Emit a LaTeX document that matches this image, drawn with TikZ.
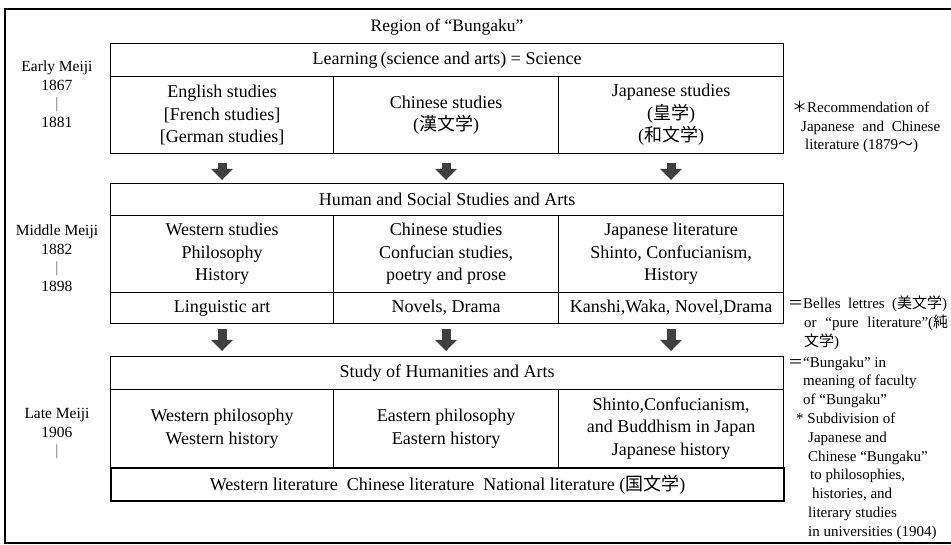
\documentclass[tikz,border=0pt]{standalone}
\usepackage{fontspec}
\setmainfont{Liberation Serif}
\newfontfamily\cjk{Noto Sans CJK JP}
\usetikzlibrary{arrows.meta}

\begin{document}
\begin{tikzpicture}[x=1pt,y=-1pt,
    cell/.style={draw,line width=1.1pt,anchor=north west,inner sep=0pt,align=center,
      font=\fontsize{18}{22.5}\selectfont},
    era/.style={align=center,font=\fontsize{15.5}{18.5}\selectfont},
    note/.style={align=left,anchor=west,inner sep=0pt,font=\fontsize{15}{18.8}\selectfont},
    bigarr/.style={line width=9pt,black!75,-{Triangle[width=21pt,length=11pt]}}]
  \useasboundingbox (0,0) rectangle (951,545);
  \draw[line width=1.3pt] (955,9) -- (5,9) -- (5,543) -- (955,543);
  \node[font=\fontsize{17.5}{21}\selectfont] (title) at (447,27) {Region of “Bungaku”};
%	early Meiji
  \node[cell,minimum width=673,minimum height=33] (learn) at (110,43)
    {Learning\,(science and arts) = Science};
  \node[cell,minimum width=223,minimum height=77] (eng) at (110,76)
    {English studies\\{[French studies]}\\{[German studies]}};
  \node[cell,minimum width=225,minimum height=77] (chi) at (333,76)
    {Chinese studies\\({\cjk 漢文学})};
  \node[cell,minimum width=225,minimum height=77] (jap) at (558,76)
    {Japanese studies\\({\cjk 皇学})\\({\cjk 和文学})};
%	middle Meiji
  \node[cell,minimum width=673,minimum height=32] (human) at (110,183)
    {Human and Social Studies and Arts};
  \node[cell,minimum width=223,minimum height=77] (west) at (110,215)
    {Western studies\\Philosophy\\History};
  \node[cell,minimum width=225,minimum height=77] (conf) at (333,215)
    {Chinese studies\\Confucian studies,\\poetry and prose};
  \node[cell,minimum width=225,minimum height=77] (jlit) at (558,215)
    {Japanese literature\\Shinto, Confucianism,\\History};
  \node[cell,minimum width=223,minimum height=31] (ling) at (110,292) {Linguistic art};
  \node[cell,minimum width=225,minimum height=31] (novel) at (333,292) {Novels, Drama};
  \node[cell,minimum width=225,minimum height=31] (kanshi) at (558,292)
    {Kanshi,Waka, Novel,Drama};
%	late Meiji
  \node[cell,minimum width=673,minimum height=33] (study) at (110,356)
    {Study of Humanities and Arts};
  \node[cell,minimum width=223,minimum height=78] (wphil) at (110,389)
    {Western philosophy\\Western history};
  \node[cell,minimum width=225,minimum height=78] (ephil) at (333,389)
    {Eastern philosophy\\Eastern history};
  \node[cell,minimum width=225,minimum height=78] (shinto) at (558,389)
    {Shinto,Confucianism,\\and Buddhism in Japan\\Japanese history};
  \node[cell,line width=2.2pt,minimum width=673,minimum height=33] (lit) at (110,467)
    {Western literature\ \ Chinese literature\ \ National literature ({\cjk 国文学})};
%	the arrows
  \foreach \a/\b in {eng/human,chi/human,jap/human}
    \draw[bigarr] ([yshift=-9pt]\a.south) -- ([yshift=3pt]\a.south |- \b.north);
  \foreach \a/\b in {ling/study,novel/study,kanshi/study}
    \draw[bigarr] ([yshift=-5pt]\a.south) -- ([yshift=5pt]\a.south |- \b.north);
%	eras on the left
  \node[era] (early) at (57,94) {Early Meiji\\1867\\{\color{black!60}|}\\1881};
  \node[era] (middle) at (57,258) {Middle Meiji\\1882\\{\color{black!60}|}\\1898};
  \node[era] (late) at (57,434) {Late Meiji\\1906\\{\color{black!60}|}};
%	notes on the right
  \node[note] (rec) at (792,127)
    {{\cjk ＊}Recommendation of\\
     \hspace*{9pt}\makebox[139pt][s]{Japanese and Chinese}\\
     \hspace*{13pt}literature (1879{\cjk ～})};
  \node[note] (belles) at (788,323)
    {{\cjk ＝}\makebox[144pt][s]{Belles lettres ({\cjk 美文学})}\\
     \hspace*{16pt}\makebox[144pt][s]{or “pure literature”({\cjk 純}}\\
     \hspace*{16pt}{\cjk 文学})};
  \node[note] (faculty) at (788,448)
    {{\cjk ＝}“Bungaku” in\\
     \hspace*{15pt}meaning of faculty\\
     \hspace*{15pt}of “Bungaku”\\
     \hspace*{8pt}* Subdivision of\\
     \hspace*{20pt}Japanese and\\
     \hspace*{20pt}Chinese “Bungaku”\\
     \hspace*{22pt}to philosophies,\\
     \hspace*{24pt}histories, and\\
     \hspace*{20pt}literary studies\\
     \hspace*{20pt}in universities (1904)};
\end{tikzpicture}
\end{document}
